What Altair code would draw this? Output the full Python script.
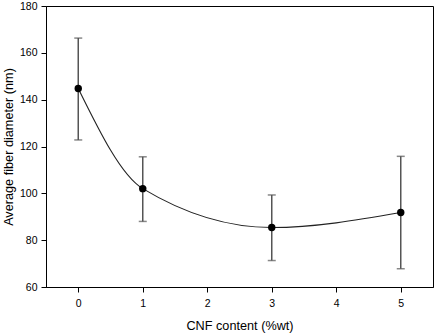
import altair as alt
import pandas as pd

cnf = [0, 1, 3, 5]
diam = [144.8, 102.0, 85.4, 91.8]
err_low = [122.8, 88.0, 71.3, 67.8]
err_high = [166.3, 115.6, 99.3, 115.8]
x_ticks = [0, 1, 2, 3, 4, 5]
y_ticks = [60, 80, 100, 120, 140, 160, 180]

df = pd.DataFrame({"cnf": cnf, "diam": diam, "lo": err_low, "hi": err_high})

font = "Liberation Sans"
xs = alt.Scale(domain=[-0.5, 5.5], nice=False, zero=False)
ys = alt.Scale(domain=[60, 180], nice=False, zero=False)

xenc = alt.X("cnf:Q", scale=xs, title="CNF content (%wt)",
             axis=alt.Axis(values=x_ticks, format="d", grid=False, tickSize=5,
                           labelPadding=6, titlePadding=11, domainColor="black",
                           tickColor="black", labelColor="black", titleColor="black",
                           labelFontSize=10.5, titleFontSize=12.7, labelFont=font,
                           titleFont=font, titleFontWeight="normal"))
yenc = alt.Y("diam:Q", scale=ys, title="Average fiber diameter (nm)",
             axis=alt.Axis(values=y_ticks, format="d", grid=False, tickSize=5,
                           labelPadding=4, titlePadding=4, domainColor="black",
                           tickColor="black", labelColor="black", titleColor="black",
                           labelFontSize=10.5, titleFontSize=12.7, labelFont=font,
                           titleFont=font, titleFontWeight="normal"))

base = alt.Chart(df)

curve = base.mark_line(interpolate="monotone", color="#222222", strokeWidth=1.1).encode(x=xenc, y=yenc)

bars = base.mark_rule(color="#555555", strokeWidth=1.5).encode(
    x=alt.X("cnf:Q", scale=xs), y=alt.Y("lo:Q", scale=ys), y2="hi:Q")
cap_lo = base.mark_tick(color="#555555", orient="horizontal", size=8, thickness=1.5).encode(
    x=alt.X("cnf:Q", scale=xs), y=alt.Y("lo:Q", scale=ys))
cap_hi = base.mark_tick(color="#555555", orient="horizontal", size=8, thickness=1.5).encode(
    x=alt.X("cnf:Q", scale=xs), y=alt.Y("hi:Q", scale=ys))

pts = base.mark_point(filled=True, color="black", size=55, opacity=1).encode(x=xenc, y=yenc)

chart = alt.layer(curve, bars, cap_lo, cap_hi, pts).properties(
    width=387, height=281,
    autosize=alt.AutoSizeParams(type="none"),
    padding={"left": 46, "top": 6, "right": 6, "bottom": 46},
    background="white",
).configure_view(stroke="black", strokeWidth=1)

chart.save("out.html", embed_options={"renderer": "svg", "actions": False})
